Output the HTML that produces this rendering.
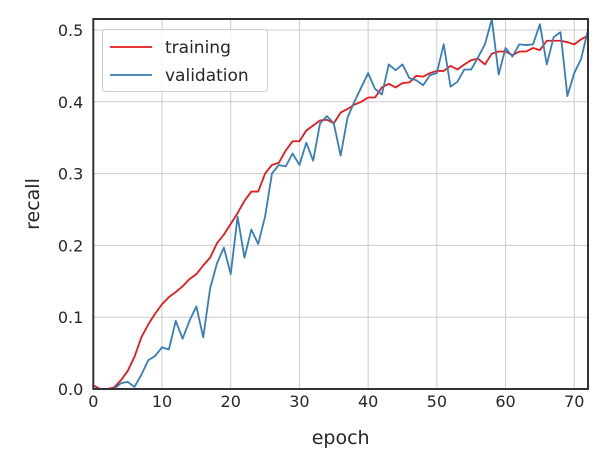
<!DOCTYPE html>
<html><head><meta charset="utf-8"><style>
body{margin:0;background:#fff;}
svg{font-family:"DejaVu Sans","Liberation Sans",sans-serif;}
</style></head><body>
<svg id="chart" width="608" height="470"></svg>
<script>
const epochs=[];for(let i=0;i<=72;i++)epochs.push(i);
const training=[0.005,0.0,0.0,0.002,0.012,0.025,0.045,0.072,0.09,0.105,0.118,0.128,0.135,0.143,0.153,0.16,0.172,0.183,0.203,0.215,0.23,0.245,0.262,0.275,0.275,0.3,0.312,0.315,0.332,0.345,0.345,0.36,0.367,0.374,0.375,0.37,0.385,0.39,0.396,0.4,0.406,0.406,0.42,0.425,0.42,0.426,0.427,0.436,0.435,0.44,0.443,0.443,0.45,0.445,0.452,0.458,0.46,0.452,0.467,0.47,0.47,0.465,0.47,0.47,0.475,0.472,0.485,0.485,0.485,0.483,0.48,0.487,0.492];
const validation=[0.0,0.0,0.0,0.0,0.008,0.01,0.003,0.02,0.04,0.046,0.058,0.055,0.095,0.07,0.095,0.115,0.072,0.14,0.175,0.197,0.16,0.24,0.183,0.222,0.202,0.24,0.3,0.312,0.31,0.328,0.312,0.343,0.318,0.37,0.38,0.37,0.325,0.378,0.4,0.42,0.44,0.418,0.41,0.452,0.444,0.452,0.433,0.43,0.423,0.437,0.44,0.48,0.421,0.428,0.445,0.445,0.462,0.48,0.515,0.438,0.475,0.463,0.48,0.479,0.48,0.508,0.452,0.49,0.497,0.408,0.44,0.46,0.5];
const xTicks=[0,10,20,30,40,50,60,70];
const yTicks=[0.0,0.1,0.2,0.3,0.4,0.5];
const yTickLabels=["0.0","0.1","0.2","0.3","0.4","0.5"];

const L=93.3,R=588,T=19,B=389;
const X=v=>L+(v-0)/72*(R-L);
const Y=v=>B-(v-0)/0.5153*(B-T);
const svg=document.getElementById('chart');
const NS='http://www.w3.org/2000/svg';
function mk(tag,attrs){const e=document.createElementNS(NS,tag);for(const k in attrs)e.setAttribute(k,attrs[k]);svg.appendChild(e);return e;}

xTicks.forEach(t=>{
  const g=mk('line',{x1:X(t),x2:X(t),y1:T,y2:B,stroke:'#cccccc','stroke-width':1});
  
  
  const tx=mk('text',{x:X(t),y:B+18,'text-anchor':'middle','font-size':16,fill:'#262626'});
  tx.textContent=t;
  
  
});
yTicks.forEach((t,i)=>{
  const g=mk('line',{x1:L,x2:R,y1:Y(t),y2:Y(t),stroke:'#cccccc','stroke-width':1});
  
  
  const tx=mk('text',{x:L-10,y:Y(t)+6,'text-anchor':'end','font-size':16,fill:'#262626'});
  tx.textContent=yTickLabels[i];
  
  
});
function line(data,color,name){
  const p=mk('polyline',{points:data.map((v,i)=>X(epochs[i])+','+Y(v)).join(' '),fill:'none',stroke:color,'stroke-width':1.8,'stroke-linejoin':'round'});
  
  
}
line(training,'#e41a1c','training-line');
line(validation,'#377eb8','validation-line');
const fr=mk('rect',{x:L,y:T,width:R-L,height:B-T,fill:'none',stroke:'#333','stroke-width':2});



const xl=mk('text',{x:(L+R)/2,y:444,'text-anchor':'middle','font-size':19,fill:'#262626'});
xl.textContent='epoch';


const yl=mk('text',{x:39,y:(T+B)/2,'text-anchor':'middle','font-size':19,fill:'#262626',transform:'rotate(-90 39 '+((T+B)/2)+')'});
yl.textContent='recall';



const lg=mk('rect',{x:102.5,y:29.5,width:165,height:62,rx:3,fill:'#fff','fill-opacity':0.8,stroke:'#cccccc'});


[['training','#e41a1c',47],['validation','#377eb8',75]].forEach(([n,c,y])=>{
  const l=mk('line',{x1:110,x2:152,y1:y,y2:y,stroke:c,'stroke-width':1.8});
  
  
  const t=mk('text',{x:165,y:y+6,'font-size':17,fill:'#262626'});
  t.textContent=n;
  
  
});
</script>
</body></html>
